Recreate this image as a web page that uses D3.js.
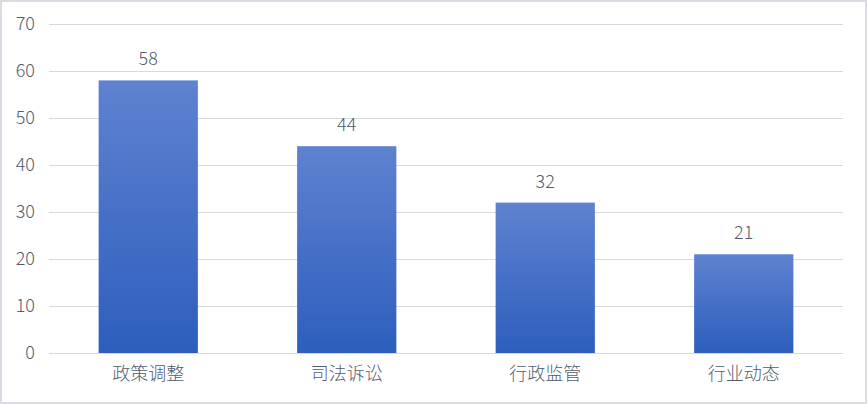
<!DOCTYPE html>
<head>
   <meta charset="utf-8">
   <script src="https://d3js.org/d3.v7.min.js"></script>
   <style>
   body{ margin: 0; background: #ffffff; }
   text{
      font-family: "Noto Sans CJK SC", "Liberation Sans", sans-serif;
      font-size: 18px;
      font-weight: 300;
      fill: #525d6e;
   }
   .tick line{
      stroke: #d9d9d9;
      shape-rendering: CrispEdges;
   }
   path.domain{ display: none; }
   </style>
   <title>分类统计</title>
</head>
<body>
<script>
// data
const categories = ['政策调整', '司法诉讼', '行政监管', '行业动态'];
const counts     = [58, 44, 32, 21];
const yTicks     = [0, 10, 20, 30, 40, 50, 60, 70];

const width  = 867;
const height = 404;
const margin = {top: 24, right: 24, bottom: 51, left: 49};

const svg = d3.select('body').append('svg')
   .attr('width', width)
   .attr('height', height);

// outer frame
svg.append('rect')
   .attr('x', 1).attr('y', 1)
   .attr('width', width - 2).attr('height', height - 2)
   .attr('fill', '#ffffff')
   .attr('stroke', '#d9dde3')
   .attr('stroke-width', 2);

const defs = svg.append('defs');
const grad = defs.append('linearGradient')
   .attr('id', 'barFill')
   .attr('x1', 0).attr('y1', 0).attr('x2', 0).attr('y2', 1);
grad.append('stop').attr('offset', '0%').attr('stop-color', '#5f82d0');
grad.append('stop').attr('offset', '100%').attr('stop-color', '#2d5ebd');

const x = d3.scaleBand()
   .domain(categories)
   .range([margin.left, width - margin.right])
   .paddingInner(0.5)
   .paddingOuter(0.25);

const y = d3.scaleLinear()
   .domain([0, 70])
   .range([height - margin.bottom, margin.top]);

// gridlines + y labels
const yAxis = d3.axisLeft(y)
   .tickValues(yTicks)
   .tickSize(-(width - margin.left - margin.right))
   .tickPadding(14);

svg.append('g')
   .attr('class', 'yAxis')
   .attr('transform', `translate(${margin.left},0)`)
   .call(yAxis)
   .selectAll('.tick line')
   .attr('stroke-width', 1.5);

const rows = categories.map((c, i) => ({name: c, value: counts[i]}));

svg.selectAll('rect.bar')
   .data(rows)
   .enter()
   .append('rect')
   .attr('class', 'bar')
   .attr('x', d => x(d.name))
   .attr('width', x.bandwidth())
   .attr('y', d => y(d.value))
   .attr('height', d => y(0) - y(d.value))
   .attr('fill', 'url(#barFill)');

svg.selectAll('text.valueLabel')
   .data(rows)
   .enter()
   .append('text')
   .attr('class', 'valueLabel')
   .attr('x', d => x(d.name) + x.bandwidth() / 2)
   .attr('y', d => y(d.value) - 15)
   .style('text-anchor', 'middle')
   .text(d => d.value);

// category labels
const xAxis = d3.axisBottom(x).tickSize(0).tickPadding(14);
svg.append('g')
   .attr('class', 'xAxis')
   .attr('transform', `translate(0,${y(0)})`)
   .call(xAxis);

svg.selectAll('.tick text')
   .attr('font-size', 18)
   .attr('font-weight', 300)
   .attr('font-family', '"Noto Sans CJK SC", "Liberation Sans", sans-serif')
   .attr('fill', '#525d6e');
</script>
</body>
